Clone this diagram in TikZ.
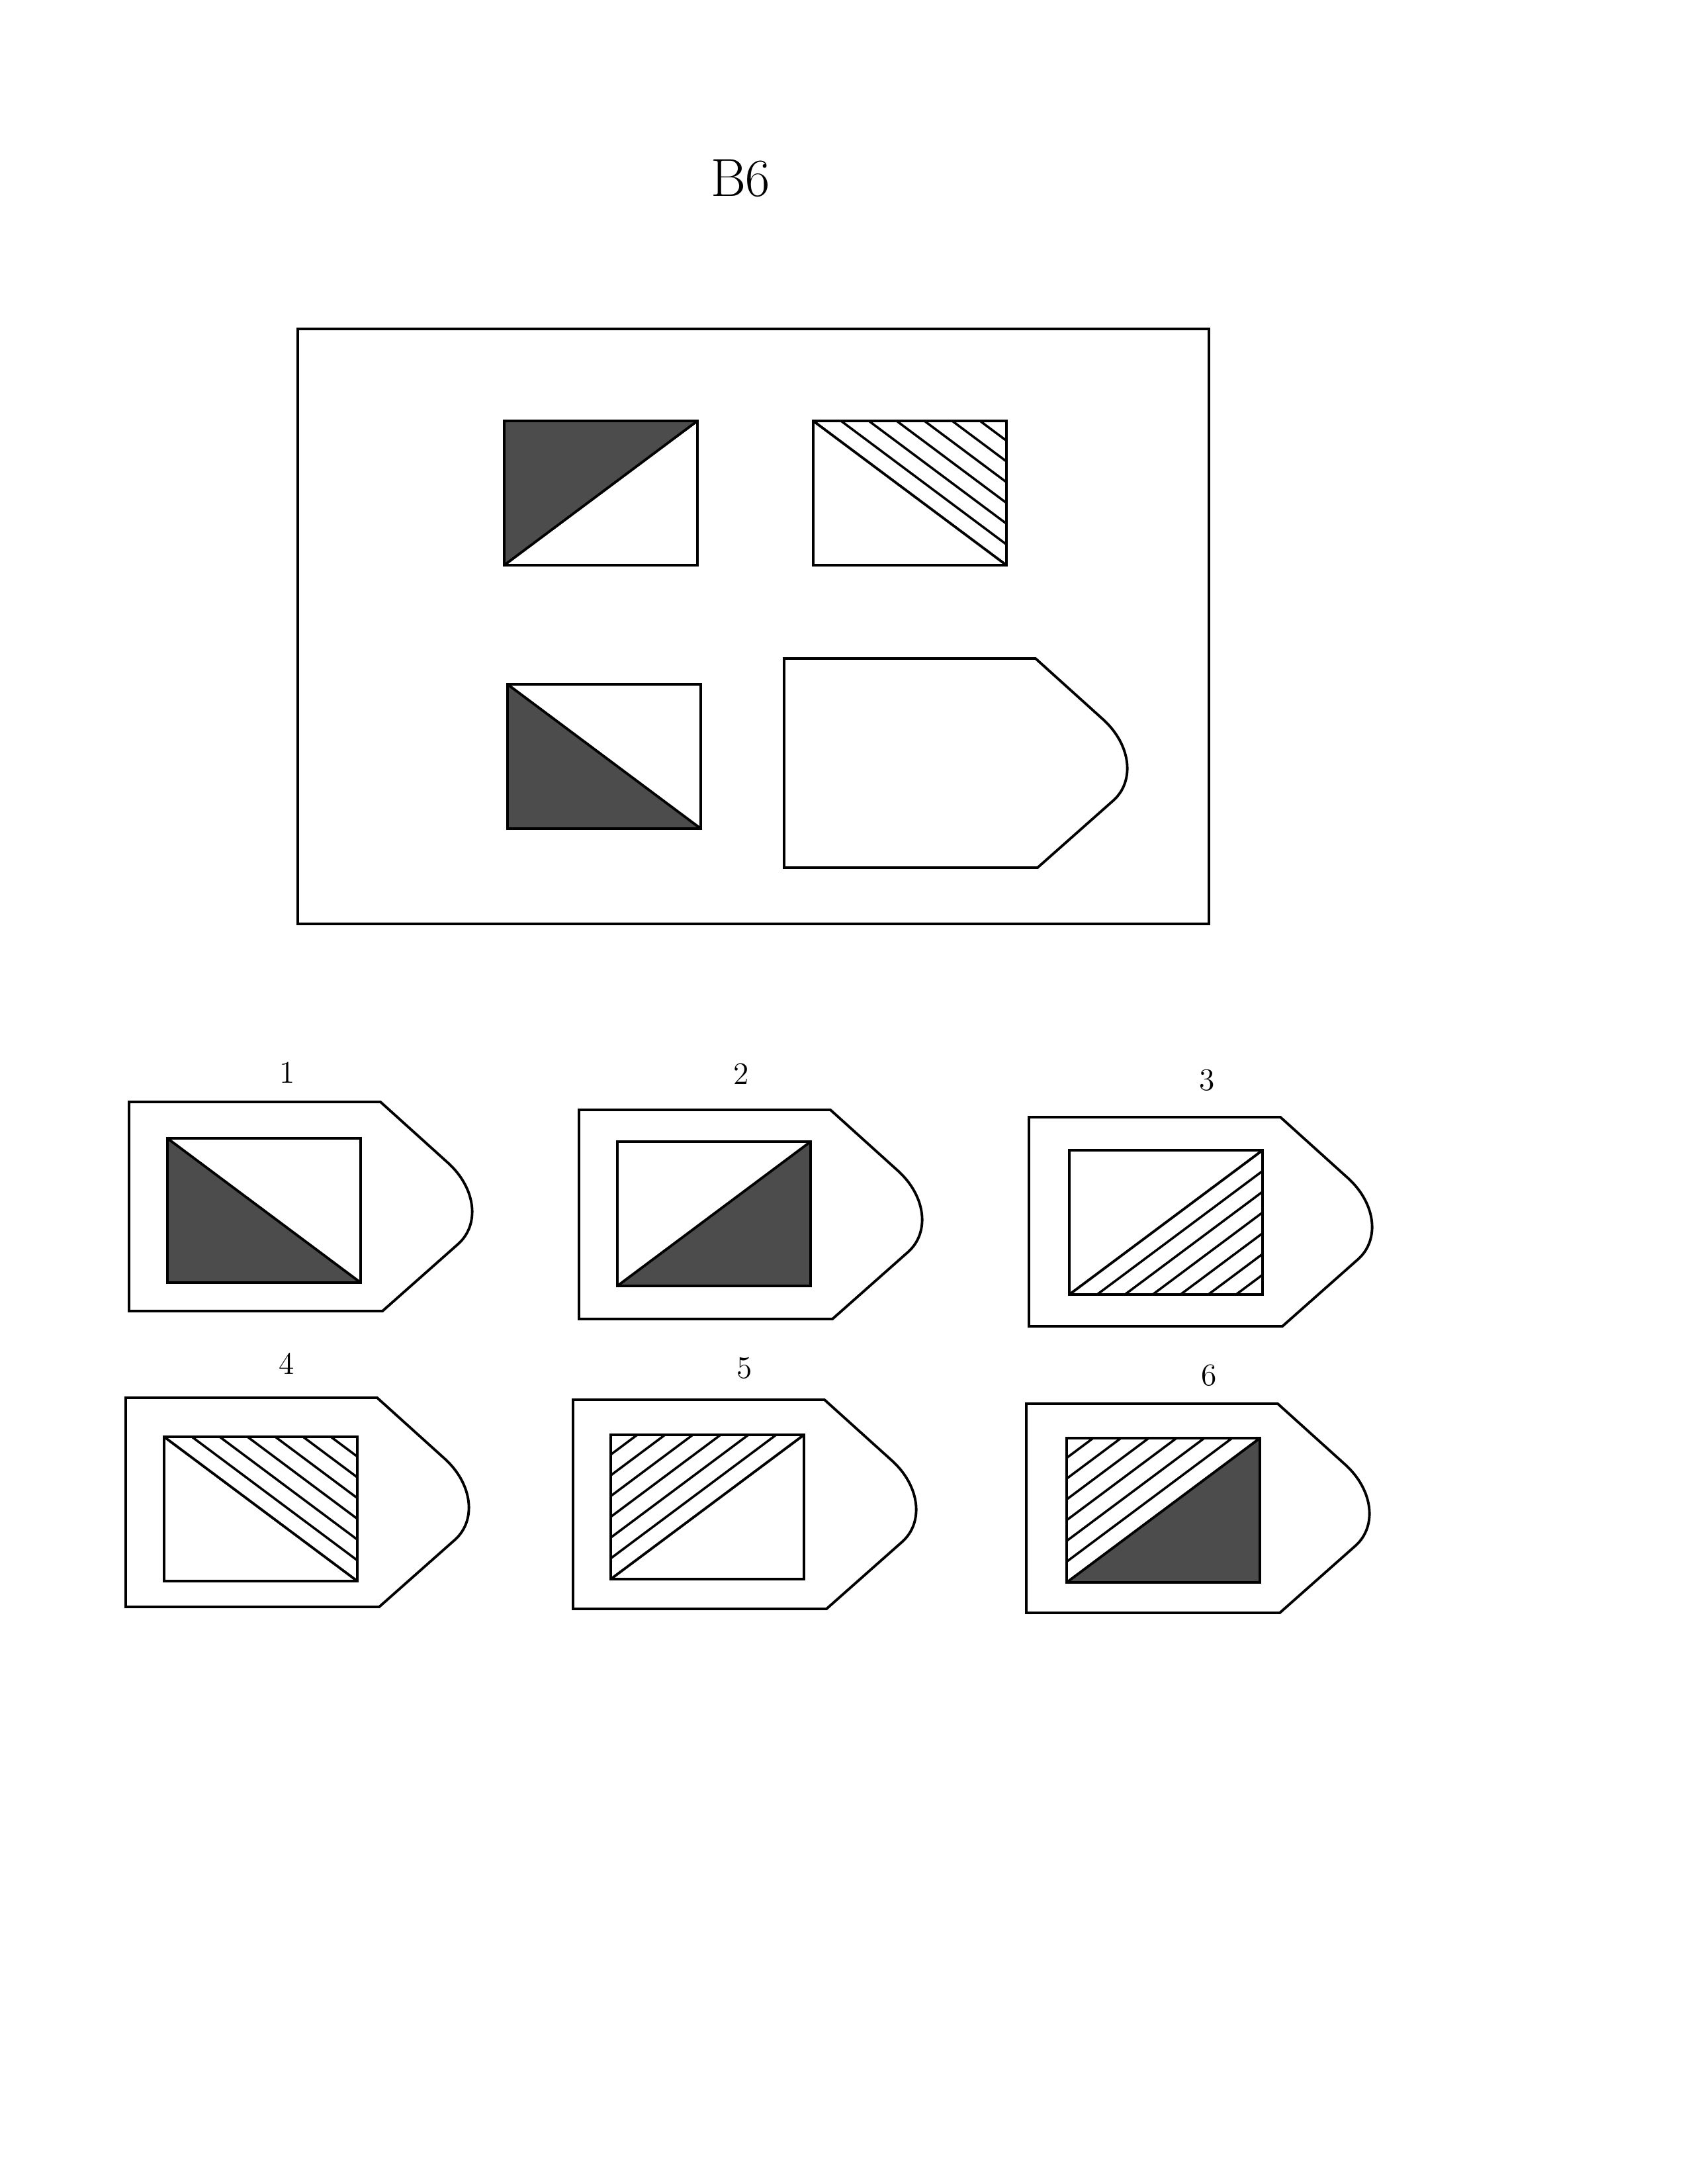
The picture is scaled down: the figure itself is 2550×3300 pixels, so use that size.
\documentclass[tikz,border=0pt]{standalone}
\usepackage{tikz}
\usetikzlibrary{positioning}
\tikzset{
outline/.style={draw=black,line width=1.1pt,line join=miter},
hatchline/.style={draw=black,line width=1pt},
dark/.style={fill=black!70},
titletext/.style={font=\fontsize{23}{27}\selectfont,inner sep=0pt},
optlabel/.style={font=\fontsize{13.5}{16}\selectfont,inner sep=0pt},
tagshape/.pic={
\draw[outline] (0,0) -- (380,0) -- (482,92) .. controls (524,130) and (531,185) .. (497,215)
  -- (383,316) -- (0,316) -- cycle;},
darkUL/.pic={
\fill[dark] (0,0) -- (292,0) -- (0,218) -- cycle;
\draw[outline] (0,0) rectangle (292,218);
\draw[outline] (0,218) -- (292,0);},
darkLL/.pic={
\fill[dark] (0,0) -- (0,218) -- (292,218) -- cycle;
\draw[outline] (0,0) rectangle (292,218);
\draw[outline] (0,0) -- (292,218);},
darkLR/.pic={
\fill[dark] (0,218) -- (292,218) -- (292,0) -- cycle;
\draw[outline] (0,0) rectangle (292,218);
\draw[outline] (0,218) -- (292,0);},
hatchUR/.pic={
\begin{scope}
\clip (0,0) -- (292,0) -- (292,218) -- cycle;
\foreach \k in {1,...,6} \draw[hatchline] (\k*42,0) -- ++(292,218);
\end{scope}
\draw[outline] (0,0) rectangle (292,218);
\draw[outline] (0,0) -- (292,218);},
hatchLR/.pic={
\begin{scope}
\clip (0,218) -- (292,218) -- (292,0) -- cycle;
\foreach \k in {1,...,6} \draw[hatchline] (\k*42,218) -- ++(292,-218);
\end{scope}
\draw[outline] (0,0) rectangle (292,218);
\draw[outline] (0,218) -- (292,0);},
hatchUL/.pic={
\begin{scope}
\clip (0,0) -- (292,0) -- (0,218) -- cycle;
\foreach \k in {1,...,6} \draw[hatchline] (-\k*42,218) -- ++(292,-218);
\end{scope}
\draw[outline] (0,0) rectangle (292,218);
\draw[outline] (0,218) -- (292,0);},
mixUL/.pic={
\fill[dark] (0,218) -- (292,218) -- (292,0) -- cycle;
\begin{scope}
\clip (0,0) -- (292,0) -- (0,218) -- cycle;
\foreach \k in {1,...,6} \draw[hatchline] (-\k*42,218) -- ++(292,-218);
\end{scope}
\draw[outline] (0,0) rectangle (292,218);
\draw[outline] (0,218) -- (292,0);}
}
\begin{document}
\begin{tikzpicture}[x=0.01cm,y=-0.01cm]
\useasboundingbox[fill=white] (0,0) rectangle (2550,3300);
\node[titletext] (title) at (1119,270) {B6};
% problem matrix
\draw[outline] (450,497) rectangle (1827,1396);
\pic at (762,636) {darkUL};
\pic at (1229,636) {hatchUR};
\pic at (767,1034) {darkLL};
\pic at (1185,995) {tagshape};
% answer choices
\node[optlabel] (lab1) at (434,1621) {1};
\node[optlabel] (lab2) at (1120,1623) {2};
\node[optlabel] (lab3) at (1824,1632) {3};
\node[optlabel] (lab4) at (433,2060) {4};
\node[optlabel] (lab5) at (1125,2067) {5};
\node[optlabel] (lab6) at (1827,2078) {6};
\pic at (195,1665) {tagshape};
\pic at (253,1720) {darkLL};
\pic at (875,1677) {tagshape};
\pic at (933,1725) {darkLR};
\pic at (1555,1688) {tagshape};
\pic at (1616,1738) {hatchLR};
\pic at (190,2112) {tagshape};
\pic at (248,2171) {hatchUR};
\pic at (866,2115) {tagshape};
\pic at (923,2168) {hatchUL};
\pic at (1551,2121) {tagshape};
\pic at (1612,2173) {mixUL};
\end{tikzpicture}
\end{document}
